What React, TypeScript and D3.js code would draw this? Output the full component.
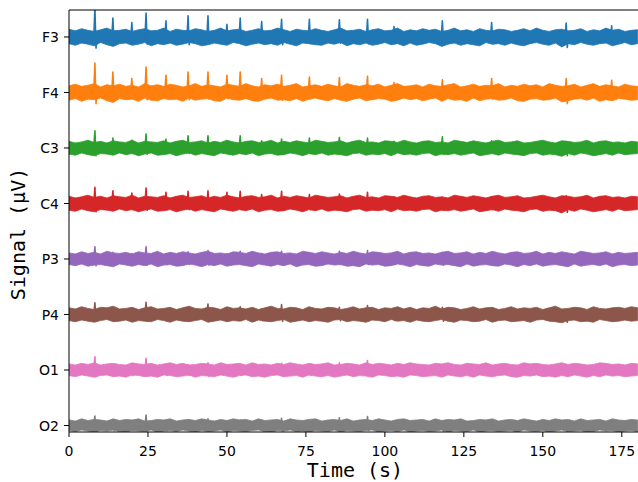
import React from "react";
import * as d3 from "d3";

const CHANNELS = ["F3", "F4", "C3", "C4", "P3", "P4", "O1", "O2"];
const COLORS = ["#1f77b4", "#ff7f0e", "#2ca02c", "#d62728", "#9467bd", "#8c564b", "#e377c2", "#7f7f7f"];
const OFFSET_STEP = 100; // µV between stacked channels
const BIN_STEP = 2; // seconds per envelope bin
const X_TICKS = [0, 25, 50, 75, 100, 125, 150, 175];

// Shared artifact times (s)
const SPIKE_TIMES = [8.2, 13.9, 19.9, 24.4, 30.7, 37.7, 44.0, 50.0, 54.2, 61.0, 67.3, 76.1, 85.6, 94.5, 102.9, 118.2, 133.8, 157.4, 171.8];

// Peak heights (µV above channel baseline)
const F3_SPIKES = [52, 34, 26, 43, 29, 38, 38, 23, 34, 28, 32, 32, 31, 32, 19, 29, 26, 25, 20];
const F4_SPIKES = [53, 37, 25, 46, 31, 37, 37, 31, 37, 25, 31, 28, 27, 29, 18, 23, 25, 25, 22];
const C3_SPIKES = [31, 18, 14, 25, 16, 22, 22, 13, 22, 13, 16, 18, 19, 18, 12, 20, 13, 11, 10];
const C4_SPIKES = [29, 23, 19, 28, 20, 22, 23, 20, 22, 16, 22, 16, 17, 20, 12, 11, 12, 14, 10];
const P3_SPIKES = [22, 12, 10, 22, 10, 13, 15, 10, 14, 10, 14, 11, 14, 15, 9, 12, 9, 10, 8];
const P4_SPIKES = [21, 12, 10, 22, 10, 13, 19, 10, 14, 10, 18, 10, 13, 16, 9, 13, 9, 9, 8];
const O1_SPIKES = [24, 10, 8, 21, 8, 10, 13, 8, 10, 8, 12, 8, 13, 17, 8, 6, 8, 8, 7];
const O2_SPIKES = [17, 10, 8, 19, 8, 10, 12, 8, 10, 8, 13, 8, 14, 16, 8, 8, 8, 8, 7];

// Trough depths right after each artifact (µV)
const F3_DIPS = [-20, -12, -11, -13, -11, -14, -12, -11, -12, -11, -14, -12, -11, -12, -11, -13, -12, -19, -12];
const F4_DIPS = [-20, -12, -11, -13, -11, -13, -12, -11, -12, -11, -14, -12, -11, -12, -11, -13, -12, -20, -12];
const C3_DIPS = [-14, -10, -10, -11, -10, -10, -11, -10, -10, -10, -11, -10, -10, -10, -10, -11, -10, -14, -10];
const C4_DIPS = [-15, -11, -11, -12, -11, -11, -12, -11, -11, -11, -12, -11, -11, -11, -11, -12, -11, -16, -11];
const P3_DIPS = [-12, -10, -10, -11, -10, -10, -11, -10, -10, -10, -11, -10, -10, -10, -10, -11, -10, -12, -10];
const P4_DIPS = [-12, -11, -11, -12, -11, -11, -12, -11, -11, -11, -12, -11, -11, -11, -11, -12, -11, -14, -11];
const O1_DIPS = [-12, -10, -10, -11, -10, -10, -11, -10, -10, -10, -11, -10, -10, -10, -10, -11, -10, -11, -10];
const O2_DIPS = [-10, -9, -9, -10, -9, -9, -10, -9, -9, -9, -10, -9, -9, -9, -9, -10, -9, -10, -9];

// Upper / lower envelopes of the background activity (µV, 2 s bins, 0–180 s)
const F3_HI = [
  14, 11, 15, 12, 10, 13, 16, 11, 12, 14,
  10, 13, 15, 11, 12, 16, 10, 14, 12, 11,
  15, 13, 10, 12, 16, 11, 13, 14, 10, 12,
  15, 11, 12, 16, 13, 10, 14, 12, 11, 15,
  12, 10, 13, 16, 11, 12, 14, 10, 13, 15,
  11, 12, 16, 10, 13, 11, 15, 12, 14, 10,
  12, 16, 11, 13, 10, 15, 12, 11, 14, 13,
  10, 12, 15, 11, 16, 12, 10, 13, 14, 11,
  12, 15, 10, 13, 11, 16, 12, 14, 10, 12,
  13];
const F3_LO = [
  -12, -15, -11, -13, -16, -10, -14, -17, -12, -11,
  -15, -13, -10, -16, -12, -14, -11, -15, -13, -10,
  -12, -16, -14, -11, -13, -15, -10, -12, -16, -13,
  -11, -14, -12, -15, -10, -13, -16, -11, -12, -14,
  -15, -11, -13, -10, -16, -12, -14, -11, -15, -13,
  -10, -14, -12, -16, -11, -15, -13, -10, -12, -17,
  -13, -11, -15, -12, -14, -16, -10, -13, -12, -15,
  -11, -14, -16, -12, -10, -13, -15, -11, -18, -12,
  -14, -10, -13, -15, -12, -11, -16, -13, -10, -14,
  -12];
const F4_HI = [
  12, 15, 11, 13, 16, 10, 14, 12, 15, 11,
  13, 10, 16, 12, 14, 11, 15, 13, 10, 12,
  16, 11, 14, 12, 10, 15, 13, 11, 16, 12,
  10, 14, 12, 15, 11, 13, 16, 10, 12, 14,
  11, 15, 12, 10, 16, 13, 11, 14, 12, 15,
  10, 13, 16, 11, 12, 14, 10, 15, 12, 11,
  14, 16, 10, 12, 15, 11, 13, 12, 16, 10,
  13, 11, 15, 12, 14, 10, 16, 13, 11, 12,
  15, 10, 13, 16, 11, 14, 12, 10, 15, 12,
  11];
const F4_LO = [
  -14, -11, -16, -12, -13, -10, -15, -18, -11, -13,
  -12, -16, -10, -14, -15, -11, -13, -12, -16, -10,
  -14, -12, -11, -15, -16, -10, -13, -14, -11, -15,
  -16, -12, -10, -14, -13, -15, -11, -16, -12, -10,
  -13, -15, -11, -14, -16, -12, -10, -15, -13, -11,
  -12, -16, -14, -10, -13, -11, -15, -12, -10, -16,
  -11, -14, -13, -16, -10, -15, -12, -11, -14, -13,
  -10, -15, -16, -12, -11, -14, -13, -10, -17, -15,
  -12, -11, -14, -10, -16, -13, -15, -11, -12, -14,
  -13];
const C3_HI = [
  12, 9, 11, 14, 10, 12, 9, 13, 11, 10,
  14, 9, 12, 11, 10, 13, 9, 12, 14, 10,
  11, 13, 9, 12, 10, 14, 11, 9, 12, 13,
  10, 11, 14, 9, 12, 10, 13, 11, 9, 14,
  12, 10, 11, 13, 9, 12, 14, 10, 11, 9,
  13, 12, 10, 14, 11, 9, 12, 13, 10, 11,
  9, 14, 12, 10, 13, 11, 9, 12, 14, 10,
  11, 13, 9, 10, 12, 14, 11, 9, 13, 12,
  10, 11, 14, 9, 12, 13, 10, 11, 9, 12,
  11];
const C3_LO = [
  -11, -13, -9, -12, -14, -10, -11, -13, -9, -12,
  -10, -14, -11, -9, -13, -12, -10, -14, -11, -9,
  -13, -10, -12, -14, -9, -11, -13, -10, -12, -9,
  -14, -11, -10, -13, -12, -9, -11, -14, -10, -12,
  -9, -13, -11, -12, -14, -10, -9, -13, -11, -12,
  -10, -14, -9, -12, -11, -13, -10, -9, -14, -11,
  -12, -10, -13, -11, -9, -14, -12, -10, -13, -9,
  -11, -12, -14, -10, -9, -13, -11, -12, -15, -10,
  -13, -9, -11, -14, -12, -10, -13, -9, -12, -11,
  -10];
const C4_HI = [
  13, 10, 12, 15, 11, 13, 10, 14, 12, 11,
  15, 10, 13, 12, 11, 14, 10, 13, 15, 11,
  12, 14, 10, 13, 11, 15, 12, 10, 13, 14,
  11, 12, 15, 10, 13, 11, 14, 12, 10, 15,
  13, 11, 12, 14, 10, 13, 15, 11, 12, 10,
  14, 13, 11, 15, 12, 10, 13, 14, 11, 12,
  10, 15, 13, 11, 14, 12, 10, 13, 15, 11,
  12, 14, 10, 11, 13, 15, 12, 10, 14, 13,
  11, 12, 15, 10, 13, 14, 11, 12, 10, 13,
  12];
const C4_LO = [
  -12, -14, -10, -13, -15, -11, -12, -14, -10, -13,
  -11, -15, -12, -10, -14, -13, -11, -15, -12, -10,
  -14, -11, -13, -15, -10, -12, -14, -11, -13, -10,
  -15, -12, -11, -14, -13, -10, -12, -15, -11, -13,
  -10, -14, -12, -13, -15, -11, -10, -14, -12, -13,
  -11, -15, -10, -13, -12, -14, -11, -10, -15, -12,
  -13, -11, -14, -12, -10, -15, -13, -11, -14, -10,
  -12, -13, -15, -11, -10, -14, -12, -13, -17, -11,
  -14, -10, -12, -15, -13, -11, -14, -10, -13, -12,
  -11];
const P3_HI = [
  11, 9, 13, 10, 12, 9, 14, 11, 10, 12,
  9, 13, 11, 10, 14, 9, 12, 10, 13, 11,
  9, 12, 14, 10, 11, 9, 13, 12, 10, 14,
  11, 9, 12, 13, 10, 11, 9, 14, 12, 10,
  13, 11, 9, 12, 10, 14, 11, 9, 13, 12,
  10, 11, 14, 9, 12, 13, 10, 11, 9, 12,
  14, 10, 11, 13, 9, 12, 10, 14, 11, 9,
  12, 13, 10, 11, 14, 9, 12, 10, 13, 11,
  9, 14, 12, 10, 11, 13, 9, 12, 10, 11,
  12];
const P3_LO = [
  -10, -12, -9, -13, -11, -10, -12, -14, -9, -11,
  -13, -10, -12, -9, -14, -11, -10, -13, -12, -9,
  -11, -14, -10, -12, -9, -13, -11, -10, -12, -14,
  -9, -11, -13, -10, -12, -9, -14, -11, -10, -13,
  -12, -9, -11, -10, -13, -12, -14, -9, -11, -10,
  -13, -12, -9, -11, -14, -10, -12, -13, -9, -11,
  -10, -12, -14, -9, -13, -11, -10, -12, -13, -9,
  -11, -14, -10, -12, -9, -13, -11, -10, -12, -14,
  -9, -13, -11, -10, -12, -9, -14, -11, -10, -12,
  -11];
const P4_HI = [
  12, 10, 14, 11, 9, 13, 12, 15, 10, 11,
  13, 9, 12, 14, 10, 11, 13, 9, 12, 15,
  11, 10, 13, 12, 9, 14, 11, 12, 10, 13,
  9, 12, 15, 11, 10, 13, 12, 9, 14, 11,
  10, 13, 12, 9, 11, 14, 10, 12, 13, 9,
  12, 11, 14, 10, 13, 9, 12, 11, 15, 10,
  13, 12, 9, 11, 14, 10, 12, 13, 9, 11,
  14, 10, 12, 11, 13, 9, 12, 15, 10, 11,
  13, 12, 9, 14, 11, 10, 12, 13, 11, 14,
  12];
const P4_LO = [
  -11, -13, -10, -12, -14, -11, -9, -13, -12, -10,
  -14, -11, -12, -13, -9, -11, -14, -10, -12, -13,
  -11, -9, -14, -12, -10, -13, -11, -12, -9, -14,
  -10, -12, -13, -11, -9, -14, -12, -10, -13, -11,
  -12, -14, -10, -9, -13, -11, -12, -14, -10, -11,
  -13, -9, -12, -11, -14, -10, -12, -13, -11, -9,
  -12, -14, -10, -11, -13, -12, -9, -14, -11, -10,
  -13, -12, -11, -14, -10, -9, -12, -13, -15, -11,
  -10, -13, -12, -14, -9, -11, -13, -12, -10, -12,
  -11];
const O1_HI = [
  11, 9, 12, 10, 13, 9, 11, 12, 10, 9,
  13, 11, 10, 12, 9, 11, 13, 10, 12, 9,
  10, 12, 11, 9, 13, 10, 11, 12, 9, 13,
  10, 11, 9, 12, 10, 13, 11, 9, 12, 10,
  11, 13, 9, 10, 12, 11, 9, 13, 10, 12,
  11, 9, 12, 10, 13, 11, 10, 9, 12, 11,
  13, 10, 9, 12, 11, 10, 13, 9, 11, 12,
  10, 9, 13, 11, 12, 10, 9, 11, 13, 10,
  12, 11, 9, 10, 13, 12, 10, 11, 9, 12,
  11];
const O1_LO = [
  -10, -12, -9, -11, -13, -10, -9, -12, -11, -13,
  -9, -10, -12, -11, -13, -9, -10, -12, -11, -9,
  -13, -10, -11, -12, -9, -11, -13, -10, -9, -12,
  -11, -13, -10, -9, -12, -11, -10, -13, -9, -11,
  -12, -10, -13, -11, -9, -12, -10, -11, -13, -9,
  -10, -12, -11, -13, -9, -10, -12, -11, -10, -13,
  -9, -11, -12, -10, -13, -9, -11, -12, -10, -9,
  -12, -13, -10, -11, -9, -12, -11, -13, -10, -12,
  -9, -11, -13, -10, -12, -9, -11, -10, -12, -11,
  -10];
const O2_HI = [
  10, 8, 12, 9, 11, 10, 8, 12, 9, 11,
  10, 12, 8, 9, 11, 10, 12, 8, 10, 11,
  9, 12, 10, 8, 11, 9, 12, 10, 11, 8,
  12, 9, 10, 11, 8, 12, 10, 9, 11, 12,
  8, 10, 11, 9, 12, 8, 10, 11, 9, 12,
  10, 8, 11, 12, 9, 10, 11, 8, 12, 9,
  11, 10, 12, 8, 9, 11, 10, 12, 8, 10,
  11, 9, 12, 10, 8, 11, 9, 12, 10, 11,
  8, 12, 9, 10, 11, 8, 12, 10, 9, 11,
  10];
const O2_LO = [
  -9, -11, -8, -10, -12, -9, -10, -8, -11, -12,
  -9, -10, -11, -8, -12, -10, -9, -11, -8, -10,
  -12, -9, -11, -10, -8, -12, -9, -10, -11, -9,
  -8, -11, -12, -9, -10, -8, -11, -10, -12, -9,
  -10, -11, -8, -12, -9, -10, -11, -9, -8, -12,
  -10, -9, -11, -8, -12, -10, -9, -11, -10, -8,
  -12, -9, -10, -11, -8, -12, -10, -9, -11, -10,
  -9, -12, -8, -10, -11, -9, -12, -10, -8, -11,
  -10, -9, -12, -11, -8, -10, -9, -12, -10, -9,
  -11];

const HI = [F3_HI, F4_HI, C3_HI, C4_HI, P3_HI, P4_HI, O1_HI, O2_HI];
const LO = [F3_LO, F4_LO, C3_LO, C4_LO, P3_LO, P4_LO, O1_LO, O2_LO];
const SPIKES = [F3_SPIKES, F4_SPIKES, C3_SPIKES, C4_SPIKES, P3_SPIKES, P4_SPIKES, O1_SPIKES, O2_SPIKES];
const DIPS = [F3_DIPS, F4_DIPS, C3_DIPS, C4_DIPS, P3_DIPS, P4_DIPS, O1_DIPS, O2_DIPS];

const W = 638;
const H = 482;
const M = { left: 69, right: 642, top: 10, bottom: 432 };

export default function App() {
  const x = d3.scaleLinear().domain([0, 181.4]).range([M.left, M.right]);
  const y = d3.scaleLinear().domain([-711.7, 48.6]).range([M.bottom, M.top]);
  const line = d3.line<[number, number]>().x((d) => x(d[0])).y((d) => y(d[1]));

  return (
    <svg width={W} height={H} style={{ position: "absolute", left: 0, top: 0, background: "#fff" }}>
      <defs>
        <clipPath id="plotclip">
          <rect x={M.left} y={M.top} width={M.right - M.left} height={M.bottom - M.top} />
        </clipPath>
      </defs>
      <rect x={0} y={0} width={W} height={H} fill="#fff" />
      <g clipPath="url(#plotclip)">
        {CHANNELS.map((ch, ci) => {
          const off = -ci * OFFSET_STEP;
          const hi = HI[ci];
          const lo = LO[ci];
          const n = Math.min(hi.length, lo.length);
          const idx = d3.range(n);
          const area = d3
            .area<number>()
            .x((i) => x(i * BIN_STEP))
            .y0((i) => y(off + lo[i]))
            .y1((i) => y(off + hi[i]));
          const spikes = SPIKE_TIMES.map((t, k) =>
            line([
              [t - 0.35, off],
              [t, off + SPIKES[ci][k]],
              [t + 0.35, off + DIPS[ci][k]],
              [t + 0.7, off],
            ])
          );
          return (
            <g key={ch}>
              <path d={area(idx) || ""} fill={COLORS[ci]} stroke={COLORS[ci]} strokeWidth={0.8} />
              {spikes.map((d, k) => (
                <path key={k} d={d || ""} fill="none" stroke={COLORS[ci]} strokeWidth={1.6} strokeLinejoin="round" />
              ))}
            </g>
          );
        })}
      </g>
      {/* spines */}
      <line x1={M.left} x2={M.left} y1={M.top} y2={M.bottom} stroke="#000" strokeWidth={1} />
      <line x1={M.left} x2={M.right} y1={M.top} y2={M.top} stroke="#000" strokeWidth={1} />
      <line x1={M.left} x2={M.right} y1={M.bottom} y2={M.bottom} stroke="#000" strokeWidth={1} />
      {/* x ticks */}
      {X_TICKS.map((t) => (
        <g key={t}>
          <line x1={x(t)} x2={x(t)} y1={M.bottom} y2={M.bottom + 5} stroke="#000" strokeWidth={1} />
          <text x={x(t)} y={456} textAnchor="middle" fontFamily="DejaVu Sans" fontSize={14} fill="#000">
            {t}
          </text>
        </g>
      ))}
      {/* y ticks */}
      {CHANNELS.map((ch, ci) => {
        const yy = y(-ci * OFFSET_STEP);
        return (
          <g key={ch}>
            <line x1={M.left - 5} x2={M.left} y1={yy} y2={yy} stroke="#000" strokeWidth={1} />
            <text x={M.left - 10} y={yy} dy="0.36em" textAnchor="end" fontFamily="DejaVu Sans" fontSize={14} fill="#000">
              {ch}
            </text>
          </g>
        );
      })}
      <text x={355} y={477} textAnchor="middle" fontFamily="DejaVu Sans Mono" fontSize={20} fill="#000">
        Time (s)
      </text>
      <text
        transform={`translate(25, 234) rotate(-90)`}
        textAnchor="middle"
        fontFamily="DejaVu Sans Mono"
        fontSize={20}
        fill="#000"
      >
        Signal (µV)
      </text>
    </svg>
  );
}
